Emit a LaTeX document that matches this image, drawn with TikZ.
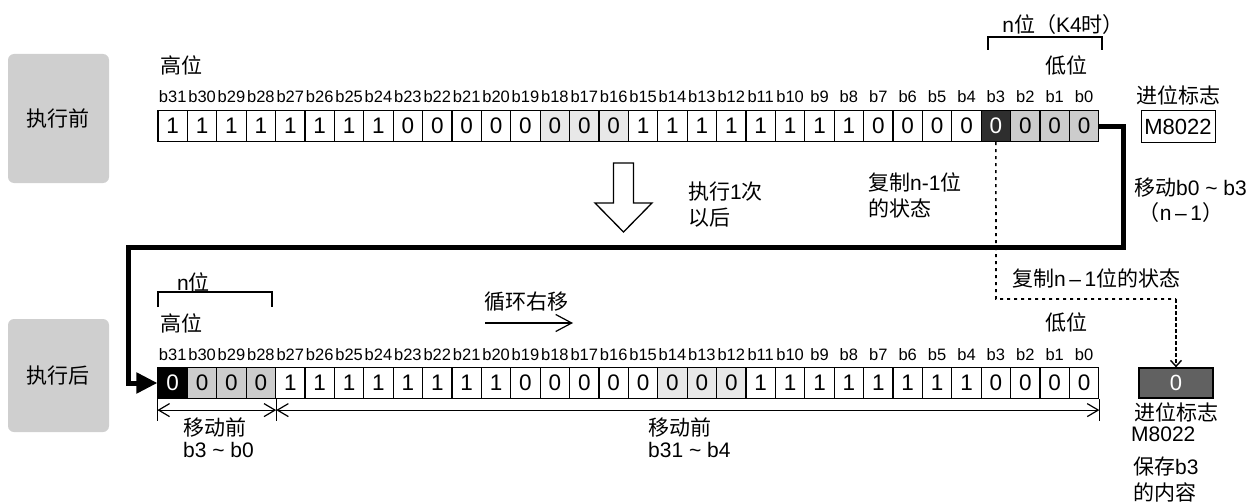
\documentclass[tikz,border=0pt]{standalone}
\usepackage{fontspec}
\setmainfont{Liberation Sans}
\newfontfamily\cjk{Noto Sans CJK SC}
\usetikzlibrary{arrows.meta}
\newcommand{\ndash}{\hspace{3.5pt}\raisebox{0pt}{–}\hspace{3.5pt}}
\begin{document}
\begin{tikzpicture}[x=1pt,y=-1pt,
  cell/.style={draw,line width=1.2pt,minimum width=29.4pt,minimum height=31pt,inner sep=0pt,font=\fontsize{22.5}{22.5}\selectfont},
  cw/.style={fill=white},
  cl/.style={fill=black!9},
  cg/.style={fill=black!20},
  ck/.style={fill=black!82,text=white},
  ckk/.style={fill=black,text=white},
  bitlbl/.style={inner sep=0pt,font=\fontsize{16.5}{16.5}\selectfont},
  lbl/.style={inner sep=0pt,font=\fontsize{21}{21}\selectfont},
  sidebox/.style={fill=black!19,rounded corners=6pt,minimum width=101pt,inner sep=0pt,font=\fontsize{21}{21}\selectfont\cjk},
  bracket/.style={line width=1.2pt},
  dimline/.style={line width=1.2pt,{Straight Barb[length=11pt,width=13pt]}-{Straight Barb[length=11pt,width=13pt]}},
  thickline/.style={line width=5pt},
  dotline/.style={line width=1.6pt,dash pattern=on 3pt off 4pt}
]
\useasboundingbox (0,0) rectangle (1254,503);

% side boxes
\node[sidebox,minimum height=129pt] (before) at (58.5,118.5) {执行前};
\node[sidebox,minimum height=113pt] (after) at (58.5,375.5) {执行后};

% top register
\foreach \v/\s [count=\k from 0] in {1/cw,1/cw,1/cw,1/cw,1/cw,1/cw,1/cw,1/cw,
  0/cw,0/cw,0/cw,0/cw,0/cw,0/cl,0/cl,0/cl,
  1/cw,1/cw,1/cw,1/cw,1/cw,1/cw,1/cw,1/cw,
  0/cw,0/cw,0/cw,0/cw,0/ck,0/cg,0/cg,0/cg}{
  \pgfmathtruncatemacro\b{31-\k}
  \node[cell,\s] (t\b) at ({172.7+29.4*\k},126) {\v};
  \node[bitlbl] (tl\b) at ({172.7+29.4*\k},97) {b\b};
}
% bottom register
\foreach \v/\s [count=\k from 0] in {0/ckk,0/cg,0/cg,0/cg,1/cw,1/cw,1/cw,1/cw,
  1/cw,1/cw,1/cw,1/cw,0/cw,0/cw,0/cw,0/cw,
  0/cw,0/cl,0/cl,0/cl,1/cw,1/cw,1/cw,1/cw,
  1/cw,1/cw,1/cw,1/cw,0/cw,0/cw,0/cw,0/cw}{
  \pgfmathtruncatemacro\b{31-\k}
  \node[cell,\s] (u\b) at ({172.7+29.4*\k},383) {\v};
  \node[bitlbl] (ul\b) at ({172.7+29.4*\k},355) {b\b};
}

% top labels
\node[lbl] (hi1) at (181.5,65) {\cjk 高位};
\node[lbl] (lo1) at (1066.5,65) {\cjk 低位};
\node[lbl] (nk) at (1063,25) {n{\cjk 位（}K4{\cjk 时）}};
\draw[bracket] (988,50) -- (988,37) -- (1102,37) -- (1102,50);
\node[lbl] (cf1) at (1178,95) {\cjk 进位标志};
\node[draw,line width=1pt,minimum width=74pt,minimum height=31pt,inner sep=0pt,font=\fontsize{22}{22}\selectfont] (m1) at (1178,126.5) {M8022};

% hollow down arrow
\draw[line width=1.3pt,fill=white] (613.5,163) -- (633.5,163) -- (633.5,203) -- (652,203) -- (623.5,232) -- (595,203) -- (613.5,203) -- cycle;
\node[lbl,anchor=west] (ex1) at (688,192) {{\cjk 执行}1{\cjk 次}};
\node[lbl,anchor=west] (ex2) at (688,218) {\cjk 以后};

\node[lbl,anchor=west] (cp1) at (868,182) {{\cjk 复制}n-1{\cjk 位}};
\node[lbl,anchor=west] (cp2) at (868,208) {\cjk 的状态};

\node[lbl,anchor=west] (mv1) at (1134,188) {{\cjk 移动}b0 \textasciitilde\ b3};
\node[lbl] (mv2) at (1181,213) {{\cjk （}n\ndash 1{\cjk ）}};

\node[lbl,anchor=west] (cp3) at (1012,278) {{\cjk 复制}n\ndash 1{\cjk 位的状态}};

% thick connector
\coordinate (r1) at (1123,247);
\coordinate (l1) at (128,247);
\draw[thickline,-{Triangle[length=21pt,width=20pt]}] (t0.east) -| (r1) -- (l1) |- (u31.west);

% dotted connector
\coordinate (dc) at (996,299);
\coordinate (dc2) at (1176,299);
\node[draw,line width=1.3pt,fill=black!62,text=white!88,minimum width=74pt,minimum height=30pt,inner sep=0pt,font=\fontsize{22}{22}\selectfont] (cb) at (1176,383) {0};
\draw[dotline] (t3.south) -- (dc) -- (dc2);
\draw[line width=1.4pt,dash pattern=on 4pt off 2pt,-{Straight Barb[length=6pt,width=11pt]}] (dc2) -- (cb.north);

% bottom labels
\node[lbl] (nb) at (193.5,282) {n{\cjk 位}};
\draw[bracket] (158,307) -- (158,292) -- (272,292) -- (272,307);
\node[lbl] (hi2) at (181.5,323) {\cjk 高位};
\node[lbl] (lo2) at (1066.5,322) {\cjk 低位};
\node[lbl] (rot) at (526.5,302) {\cjk 循环右移};
\coordinate (ra) at (485,323);
\coordinate (rb) at (573,323);
\draw[line width=1.2pt,-{Straight Barb[length=16pt,width=17pt]}] (ra) -- (rb);

% dimension lines
\draw[line width=1.2pt] (u31.south west) -- ++(0,22);
\draw[line width=1.2pt] (u28.south east) -- ++(0,22);
\draw[line width=1.2pt] (u0.south east) -- ++(0,22);
\draw[dimline] ([yshift=-11pt]u31.south west) -- ([yshift=-11pt]u28.south east);
\draw[dimline] ([yshift=-11pt]u28.south east) -- ([yshift=-11pt]u0.south east);

\node[lbl,anchor=west] (mb1) at (183,428) {\cjk 移动前};
\node[lbl,anchor=west] (mb2) at (183,450) {b3 \textasciitilde\ b0};
\node[lbl,anchor=west] (mb3) at (648,428) {\cjk 移动前};
\node[lbl,anchor=west] (mb4) at (648,450) {b31 \textasciitilde\ b4};

% carry flag labels
\node[lbl] (cf2) at (1176,412) {\cjk 进位标志};
\node[lbl,anchor=west] (cf3) at (1131,434) {M8022};
\node[lbl,anchor=west] (sv1) at (1133,467) {{\cjk 保存}b3};
\node[lbl,anchor=west] (sv2) at (1133,492) {\cjk 的内容};
\end{tikzpicture}
\end{document}
